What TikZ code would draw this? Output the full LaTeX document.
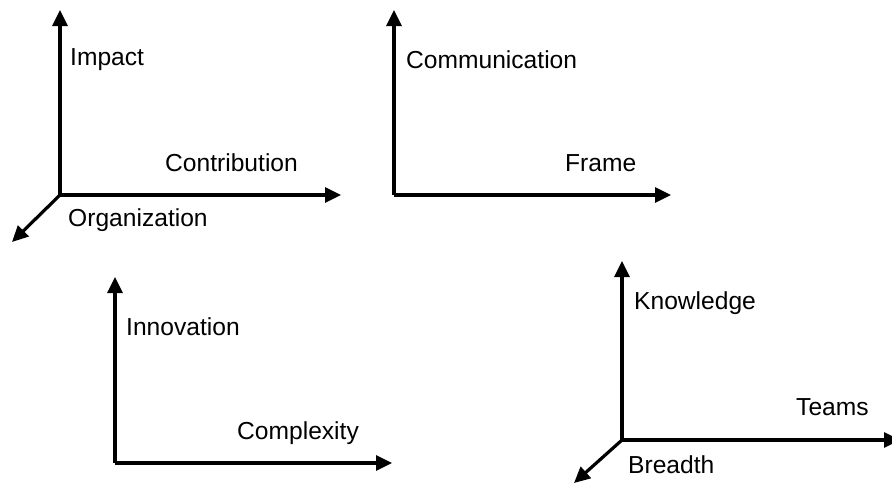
\documentclass[tikz,border=0pt]{standalone}
\usepackage{fontspec}
\setmainfont{Liberation Sans}
\usetikzlibrary{arrows.meta}
\begin{document}
\begin{tikzpicture}[x=1pt,y=-1pt,
  axis/.style={line width=3.2pt,-{Triangle[length=16pt,width=15pt]}},
  lbl/.style={anchor=west,inner sep=0pt,font=\fontsize{24.6}{28}\selectfont}]
\useasboundingbox (0,0) rectangle (892,483);
% group 1
\coordinate (o1) at (60,195);
\coordinate (y1) at (60,10);
\coordinate (x1) at (341,195);
\coordinate (z1) at (12,242);
\draw[axis] (o1) -- (y1);
\draw[axis] (o1) -- (x1);
\draw[axis] (o1) -- (z1);
\node[lbl] (impact) at (70,60) {Impact};
\node[lbl] (contrib) at (165,163) {Contribution};
\node[lbl] (org) at (68,220) {Organization};
% group 2
\coordinate (o2) at (394,195);
\coordinate (y2) at (394,10);
\coordinate (x2) at (671,195);
\draw[axis] (o2) -- (y2);
\draw[axis] (o2) -- (x2);
\node[lbl] (comm) at (406,60) {Communication};
\node[lbl] (frame) at (565,163) {Frame};
% group 3
\coordinate (o3) at (115,463);
\coordinate (y3) at (115,277);
\coordinate (x3) at (392,463);
\draw[axis] (o3) -- (y3);
\draw[axis] (o3) -- (x3);
\node[lbl] (innov) at (126,327) {Innovation};
\node[lbl] (compl) at (237,433) {Complexity};
% group 4
\coordinate (o4) at (622,440);
\coordinate (y4) at (622,261);
\coordinate (x4) at (900,440);
\coordinate (z4) at (574,483);
\draw[axis] (o4) -- (y4);
\draw[axis] (o4) -- (x4);
\draw[axis] (o4) -- (z4);
\node[lbl] (know) at (634,303) {Knowledge};
\node[lbl] (teams) at (796,407) {Teams};
\node[lbl] (bread) at (628,465) {Breadth};
\end{tikzpicture}
\end{document}
